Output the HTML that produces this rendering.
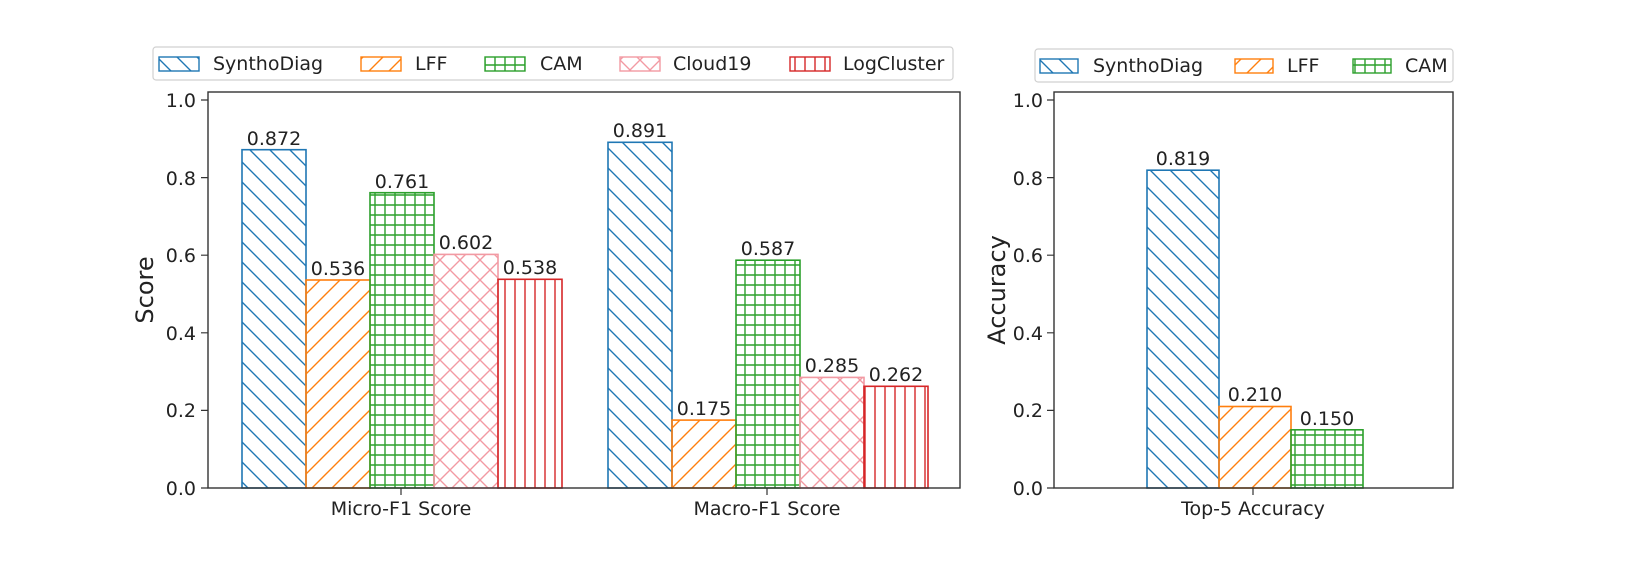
<!DOCTYPE html>
<html><head><meta charset="utf-8"><style>html,body{margin:0;padding:0;background:#fff}svg{display:block}text{font-family:"DejaVu Sans","Liberation Sans",sans-serif;fill:#222}</style></head>
<body>
<svg width="1634" height="562" viewBox="0 0 1634 562" xmlns="http://www.w3.org/2000/svg">
<defs>
<pattern id="pb" patternUnits="userSpaceOnUse" width="20" height="20"><path d="M-5,-5 L25,25 M-5,15 L5,25 M15,-5 L25,5" stroke="#1f77b4" stroke-width="1.4"/></pattern>
<pattern id="po" patternUnits="userSpaceOnUse" width="20" height="20"><path d="M-5,25 L25,-5 M-5,5 L5,-5 M15,25 L25,15" stroke="#ff7f0e" stroke-width="1.4"/></pattern>
<pattern id="pg" patternUnits="userSpaceOnUse" width="10" height="10"><path d="M5,0 V10 M0,5 H10" stroke="#2ca02c" stroke-width="1.4"/></pattern>
<pattern id="pp" patternUnits="userSpaceOnUse" width="20" height="20"><path d="M-5,-5 L25,25 M-5,25 L25,-5 M-5,15 L5,25 M15,-5 L25,5 M-5,5 L5,-5 M15,25 L25,15" stroke="#f29aa3" stroke-width="1.4"/></pattern>
<pattern id="pr" patternUnits="userSpaceOnUse" width="10" height="10"><path d="M5,0 V10" stroke="#d62728" stroke-width="1.4"/></pattern>
</defs>

<rect x="153" y="47" width="800" height="33" rx="3" fill="#fff" stroke="#d0d0d0" stroke-width="1.2"/>
<g font-size="19">
<rect x="159" y="57" width="40" height="14" fill="url(#pb)" stroke="#1f77b4" stroke-width="1.4"/><text x="213" y="70">SynthoDiag</text>
<rect x="361" y="57" width="40" height="14" fill="url(#po)" stroke="#ff7f0e" stroke-width="1.4"/><text x="415" y="70">LFF</text>
<rect x="485" y="57" width="40" height="14" fill="url(#pg)" stroke="#2ca02c" stroke-width="1.4"/><text x="540" y="70">CAM</text>
<rect x="620" y="57" width="40" height="14" fill="url(#pp)" stroke="#f29aa3" stroke-width="1.4"/><text x="673" y="70">Cloud19</text>
<rect x="790" y="57" width="40" height="14" fill="url(#pr)" stroke="#d62728" stroke-width="1.4"/><text x="843" y="70">LogCluster</text>
</g>

<rect x="1035" y="49" width="418" height="33" rx="3" fill="#fff" stroke="#d0d0d0" stroke-width="1.2"/>
<g font-size="19">
<rect x="1040" y="59" width="38" height="14" fill="url(#pb)" stroke="#1f77b4" stroke-width="1.4"/><text x="1093" y="72">SynthoDiag</text>
<rect x="1235" y="59" width="38" height="14" fill="url(#po)" stroke="#ff7f0e" stroke-width="1.4"/><text x="1287" y="72">LFF</text>
<rect x="1353" y="59" width="38" height="14" fill="url(#pg)" stroke="#2ca02c" stroke-width="1.4"/><text x="1405" y="72">CAM</text>
</g>

<g stroke-width="1.6">
<rect x="242" y="149.7" width="64" height="338.3" fill="url(#pb)" stroke="#1f77b4"/>
<rect x="306" y="280.0" width="64" height="208.0" fill="url(#po)" stroke="#ff7f0e"/>
<rect x="370" y="192.7" width="64" height="295.3" fill="url(#pg)" stroke="#2ca02c"/>
<rect x="434" y="254.4" width="64" height="233.6" fill="url(#pp)" stroke="#f29aa3"/>
<rect x="498" y="279.3" width="64" height="208.7" fill="url(#pr)" stroke="#d62728"/>
<rect x="608" y="142.3" width="64" height="345.7" fill="url(#pb)" stroke="#1f77b4"/>
<rect x="672" y="420.1" width="64" height="67.9" fill="url(#po)" stroke="#ff7f0e"/>
<rect x="736" y="260.2" width="64" height="227.8" fill="url(#pg)" stroke="#2ca02c"/>
<rect x="800" y="377.4" width="64" height="110.6" fill="url(#pp)" stroke="#f29aa3"/>
<rect x="864" y="386.3" width="64" height="101.7" fill="url(#pr)" stroke="#d62728"/>
</g>
<g font-size="19" text-anchor="middle">
<text x="274" y="145">0.872</text><text x="338" y="275">0.536</text><text x="402" y="188">0.761</text><text x="466" y="249">0.602</text><text x="530" y="274">0.538</text>
<text x="640" y="137">0.891</text><text x="704" y="415">0.175</text><text x="768" y="255">0.587</text><text x="832" y="372">0.285</text><text x="896" y="381">0.262</text>
</g>

<g stroke-width="1.6">
<rect x="1147" y="170.2" width="72" height="317.8" fill="url(#pb)" stroke="#1f77b4"/>
<rect x="1219" y="406.5" width="72" height="81.5" fill="url(#po)" stroke="#ff7f0e"/>
<rect x="1291" y="429.8" width="72" height="58.2" fill="url(#pg)" stroke="#2ca02c"/>
</g>
<g font-size="19" text-anchor="middle">
<text x="1183" y="165">0.819</text><text x="1255" y="401">0.210</text><text x="1327" y="425">0.150</text>
</g>

<rect x="208" y="92" width="752" height="396" fill="none" stroke="#333" stroke-width="1.4"/>
<rect x="1054" y="92" width="399" height="396" fill="none" stroke="#333" stroke-width="1.4"/>
<g stroke="#333" stroke-width="1.2">
<path d="M201,488H208M201,410.4H208M201,332.8H208M201,255.2H208M201,177.6H208M201,100H208"/>
<path d="M1047,488H1054M1047,410.4H1054M1047,332.8H1054M1047,255.2H1054M1047,177.6H1054M1047,100H1054"/>
<path d="M401,488V495M767,488V495M1253,488V495"/>
</g>
<g font-size="19" text-anchor="end">
<text x="196" y="495">0.0</text><text x="196" y="417">0.2</text><text x="196" y="340">0.4</text><text x="196" y="262">0.6</text><text x="196" y="185">0.8</text><text x="196" y="107">1.0</text>
<text x="1043" y="495">0.0</text><text x="1043" y="417">0.2</text><text x="1043" y="340">0.4</text><text x="1043" y="262">0.6</text><text x="1043" y="185">0.8</text><text x="1043" y="107">1.0</text>
</g>
<g font-size="19" text-anchor="middle">
<text x="401" y="515">Micro-F1 Score</text><text x="767" y="515">Macro-F1 Score</text><text x="1253" y="515">Top-5 Accuracy</text>
</g>
<text font-size="24" text-anchor="middle" transform="translate(153,290) rotate(-90)">Score</text>
<text font-size="24" text-anchor="middle" transform="translate(1005,290) rotate(-90)">Accuracy</text>
</svg>
</body></html>
